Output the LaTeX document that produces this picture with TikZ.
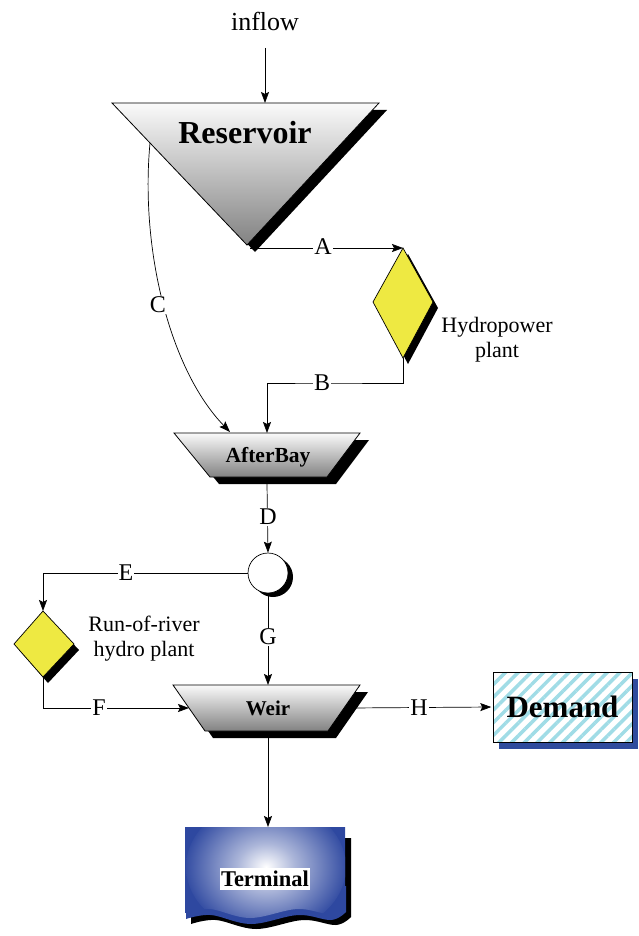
\documentclass[tikz,border=0pt]{standalone}
\usepackage{fontspec}
\setmainfont{Liberation Serif}
\usetikzlibrary{arrows.meta,patterns.meta}
\definecolor{ylw}{RGB}{238,233,66}
\definecolor{tblue}{RGB}{46,72,160}
\definecolor{dshadow}{RGB}{47,75,157}
\definecolor{stripe}{RGB}{160,220,230}
\definecolor{gtop}{RGB}{250,250,250}
\definecolor{gbot}{RGB}{130,130,130}
\pgfdeclareradialshading{termglow}{\pgfpoint{0bp}{0bp}}{color(0bp)=(white); color(9bp)=(tblue!40); color(26bp)=(tblue); color(50bp)=(tblue)}
\begin{document}
\begin{tikzpicture}[x=1pt,y=-1pt,
  arr/.style={-{Stealth[length=11pt,width=8pt,inset=2pt]}, line width=0.7pt},
  lbl/.style={fill=white, inner sep=1pt, font=\fontsize{24}{26}\selectfont},
  gshade/.style={top color=gtop, bottom color=gbot, draw=black, line width=0.8pt},
  shad/.style={fill=black},
  yshape/.style={fill=ylw, draw=black, line width=0.7pt},
  bold/.style={font=\fontsize{#1}{#1}\selectfont\bfseries, inner sep=0pt},
  plain/.style={font=\fontsize{22}{25}\selectfont, align=center, inner sep=0pt}]
\useasboundingbox (0,0) rectangle (639,936);

% ---------- inflow ----------
\node[font=\fontsize{26}{28}\selectfont, inner sep=0pt] (inflow) at (265,21) {inflow};
\coordinate (inflowEnd) at (265,48);
\coordinate (resTop) at (265,103);
\draw[arr] (inflowEnd) -- (resTop);

% ---------- Reservoir ----------
\fill[shad, shift={(8,7)}] (112,103) -- (379,103) -- (247,245) -- cycle;
\draw[gshade] (112,103) -- (379,103) -- (247,245) -- cycle;
\node[bold=32] (res) at (245,133) {Reservoir};
\coordinate (resA) at (250,248);
\coordinate (resC) at (150,143);

% ---------- Hydropower plant ----------
\fill[shad, shift={(5,6)}] (403,248) -- (433,302) -- (403,358) -- (373,302) -- cycle;
\draw[yshape] (403,248) -- (433,302) -- (403,358) -- (373,302) -- cycle;
\coordinate (hpTop) at (403,248);
\coordinate (hpBot) at (403,358);
\node[plain] (hpLbl) at (497,340) {Hydropower\\plant};

% ---------- AfterBay ----------
\fill[shad, shift={(9,7)}] (174,433) -- (360,433) -- (327,477) -- (210,477) -- cycle;
\draw[gshade] (174,433) -- (360,433) -- (327,477) -- (210,477) -- cycle;
\node[bold=21.5] (ab) at (268,457) {AfterBay};
\coordinate (abB) at (267,433);
\coordinate (abC) at (230,432);
\coordinate (abBot) at (267,484);
\coordinate (bMid) at (322,383);

% ---------- junction ----------
\fill[shad] (273,577) circle (20);
\node[circle, draw, fill=white, line width=0.7pt, minimum size=40pt, inner sep=0pt] (jn) at (268,573) {};

% ---------- Run-of-river plant ----------
\fill[shad, shift={(5,6)}] (43,611) -- (74,644) -- (43,677) -- (14,644) -- cycle;
\draw[yshape] (43,611) -- (74,644) -- (43,677) -- (14,644) -- cycle;
\coordinate (rrTop) at (43,611);
\coordinate (rrBot) at (43,677);
\node[plain] (rrLbl) at (144,639) {Run-of-river\\hydro plant};

% ---------- Weir ----------
\fill[shad, shift={(8,7)}] (173,685) -- (360,685) -- (328,731) -- (205,731) -- cycle;
\draw[gshade] (173,685) -- (360,685) -- (328,731) -- (205,731) -- cycle;
\node[bold=21] (weir) at (268,708) {Weir};
\coordinate (weirTop) at (268,685);
\coordinate (weirF) at (189,708);
\coordinate (weirR) at (350,708);
\coordinate (weirBot) at (268,738);

% ---------- Demand ----------
\fill[dshadow] (499,679) rectangle (638,749);
\node[draw=black, line width=0.7pt, minimum width=139pt, minimum height=70pt,
      preaction={fill=white},
      pattern={Lines[angle=45,distance=9pt,line width=3.5pt]}, pattern color=stripe,
      inner sep=0pt] (dem) at (562.5,707) {};
\node[bold=31] (demTxt) at (dem.center) {Demand};

% ---------- Terminal ----------
\fill[shad, shift={(6,11)}] (185,827) -- (345,827) -- plot[smooth, tension=0.6] coordinates {(345,906) (330,914) (297,909) (250,918) (210,909) (185,913)} -- cycle;
\fill[black, shift={(1,3)}] (185,880) -- (345,880) -- plot[smooth, tension=0.6] coordinates {(345,906) (330,914) (297,909) (250,918) (210,909) (185,913)} -- cycle;
\fill[tblue, shift={(1,6)}] (185,880) -- (345,880) -- plot[smooth, tension=0.6] coordinates {(345,906) (330,914) (297,909) (250,918) (210,909) (185,913)} -- cycle;
\fill[tblue] (185,827) -- (345,827) -- plot[smooth, tension=0.6] coordinates {(345,906) (330,914) (297,909) (250,918) (210,909) (185,913)} -- cycle;
\begin{scope}
\clip (185,827) -- (345,827) -- plot[smooth, tension=0.6] coordinates {(345,906) (330,914) (297,909) (250,918) (210,909) (185,913)} -- cycle;
\shade[shading=termglow] (266,867) ellipse [x radius=80, y radius=66];
\end{scope}
\coordinate (termTop) at (268,827);
\node[bold=22.5, fill=white, inner xsep=1pt, inner ysep=3pt] (term) at (265,879) {Terminal};

% ---------- connectors ----------
\draw[arr] (resA) -- (hpTop);
\draw[arr] (hpBot) |- (bMid) -| (abB);
\draw[arr] (resC) .. controls (140,250) and (170,370) .. (abC);
\draw[arr] (abBot) -- (jn.north);
\draw[arr] (jn.west) -| (rrTop);
\draw[arr] (rrBot) |- (weirF);
\draw[arr] (jn.south) -- (weirTop);
\draw[arr] (weirR) -- (dem.west);
\draw[arr] (weirBot) -- (termTop);

% ---------- labels ----------
\node[lbl] (lA) at (323,247) {A};
\node[lbl] (lB) at (bMid) {B};
\node[lbl] (lC) at (158,305) {C};
\node[lbl] (lD) at (268,517) {D};
\node[lbl] (lE) at (126,573) {E};
\node[lbl] (lF) at (99,708) {F};
\node[lbl] (lG) at (268,637) {G};
\node[lbl] (lH) at (419,708) {H};
\end{tikzpicture}
\end{document}
